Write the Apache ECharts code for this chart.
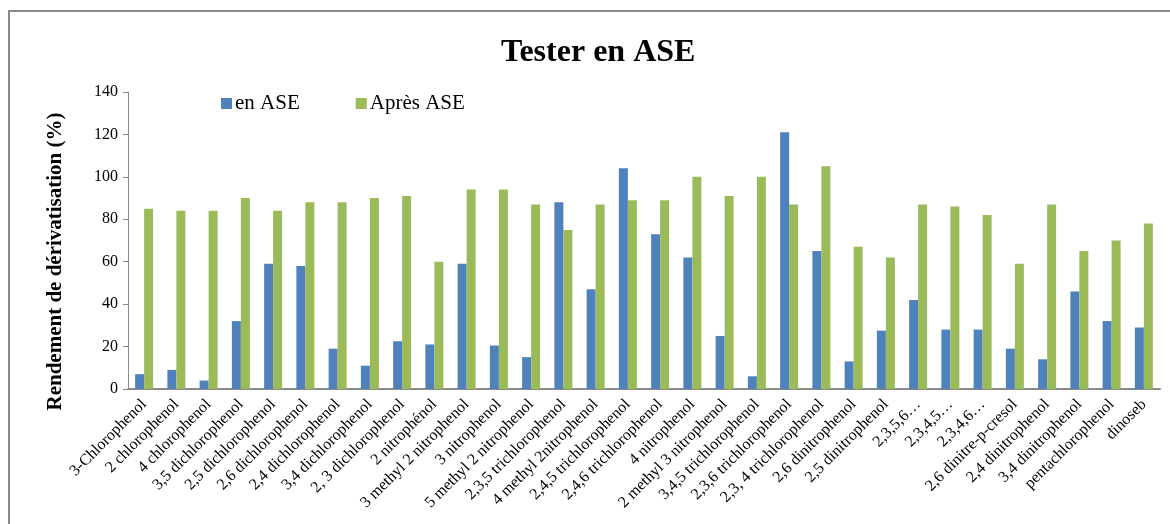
<!DOCTYPE html>
<html>
<head>
<meta charset="utf-8">
<script src="https://cdn.jsdelivr.net/npm/echarts@6/dist/echarts.min.js"></script>
<style>html,body{margin:0;padding:0;background:#fff}#c{width:1170px;height:524px}</style>
</head>
<body>
<div id="c"></div>
<script>
const categories = ["3-Chlorophenol","2 chlorophenol","4 chlorophenol","3,5 dichlorophenol","2,5 dichlorophenol","2,6 dichlorophenol","2,4 dichlorophenol","3,4 dichlorophenol","2, 3 dichlorophenol","2 nitrophénol","3 methyl 2 nitrophenol","3 nitrophenol","5 methyl 2 nitrophenol","2,3,5 trichlorophenol","4 methyl 2nitrophenol","2,4,5 trichlorophenol","2,4,6 trichlorophenol","4 nitrophenol","2 methyl 3 nitrophenol","3,4,5 trichlorophenol","2,3,6 trichlorophenol","2,3, 4 trichlorophenol","2,6 dinitrophenol","2,5 dinitrophenol","2,3,5,6…","2,3,4,5…","2,3,4,6…","2,6 dinitre-p-cresol","2,4 dinitrophenol","3,4 dinitrophenol","pentachlorophenol","dinoseb"];
const enASE = [7,9,4,32,59,58,19,11,22.5,21,59,20.5,15,88,47,104,73,62,25,6,121,65,13,27.5,42,28,28,19,14,46,32,29];
const apresASE = [85,84,84,90,84,88,88,90,91,60,94,94,87,75,87,89,89,100,91,100,87,105,67,62,87,86,82,59,87,65,70,78];
const yTicks = {min:0, max:140, interval:20};

const serif = '"Liberation Serif","DejaVu Serif",serif';
const chart = echarts.init(document.getElementById('c'));
chart.setOption({
  animation:false,
  textStyle:{fontFamily:serif},
  graphic:[{type:'rect', shape:{x:9, y:11, width:1300, height:700}, style:{fill:'none', stroke:'#8a8a8a', lineWidth:2}, silent:true}],
  title:{text:'Tester en ASE', left:496, top:32, textStyle:{fontFamily:serif, fontWeight:'bold', fontSize:32, color:'#000'}},
  legend:{left:216, top:88, itemWidth:11, itemHeight:11, itemGap:56, icon:'rect',
    textStyle:{fontFamily:serif, fontSize:21, color:'#000', padding:[0,0,0,-2]},
    data:['en ASE','Après ASE']},
  grid:{left:128, right:10, top:92, bottom:135, containLabel:false},
  xAxis:{type:'category', data:categories,
    axisLine:{lineStyle:{color:'#8a8a8a', width:2}},
    axisTick:{show:false},
    axisLabel:{rotate:45, interval:0, fontFamily:serif, fontSize:16, color:'#000', margin:13}},
  yAxis:{type:'value', min:yTicks.min, max:yTicks.max, interval:yTicks.interval,
    name:'Rendement de dérivatisation (%)', nameLocation:'middle', nameGap:62,
    nameTextStyle:{fontFamily:serif, fontWeight:'bold', fontSize:21, color:'#000', padding:[0,42,0,0]},
    axisLine:{show:true, lineStyle:{color:'#8a8a8a', width:1}},
    axisTick:{show:true, length:5, lineStyle:{color:'#8a8a8a'}},
    splitLine:{show:false},
    axisLabel:{fontFamily:serif, fontSize:16, color:'#000', margin:10}},
  series:[
    {name:'en ASE', type:'bar', data:enASE, barWidth:9, barGap:'0%', itemStyle:{color:'#4F81BD'}},
    {name:'Après ASE', type:'bar', data:apresASE, barWidth:9, barGap:'0%', itemStyle:{color:'#9BBB59'}}
  ]
});
</script>
</body>
</html>
